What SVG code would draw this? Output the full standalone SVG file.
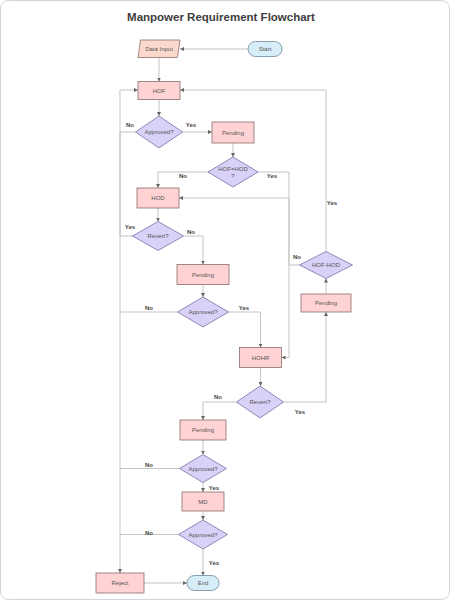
<svg xmlns="http://www.w3.org/2000/svg" width="450" height="600" viewBox="0 0 450 600">
<defs>
<marker id="arr" markerUnits="userSpaceOnUse" markerWidth="4" markerHeight="4" refX="4" refY="2" orient="auto">
<path d="M0,0 L4,2 L0,4 z" fill="#666"/>
</marker>
<style>
.t{font-family:"Liberation Sans",Arial,sans-serif;font-size:6px;fill:#555;text-anchor:middle;dominant-baseline:central}
.l{font-family:"Liberation Sans",Arial,sans-serif;font-size:6px;font-weight:bold;fill:#444;text-anchor:middle;dominant-baseline:central}
.rc{fill:#ffd3d3;stroke:#8a6e6e;stroke-width:0.8}
.dm{fill:#d9d1f7;stroke:#7a6ea6;stroke-width:0.8}
.tm{fill:#d7eef9;stroke:#6f8596;stroke-width:0.8}
.io{fill:#fcd8cc;stroke:#8a7070;stroke-width:0.8}
#connectors path{fill:none;stroke:#c4c4c4;stroke-width:1}
</style>
</defs>
<rect x="0.5" y="0.5" width="449" height="599" rx="8" fill="#fff" stroke="#d4d4d4"/>
<text x="221" y="17" style="font-family:'Liberation Sans',Arial,sans-serif;font-size:11.5px;font-weight:bold;fill:#3d3d3d;text-anchor:middle;dominant-baseline:central">Manpower Requirement Flowchart</text>

<g id="connectors">
<path d="M248,49 H180" marker-end="url(#arr)"/>
<path d="M159,57.5 V81.5" marker-end="url(#arr)"/>
<path d="M159,99.5 V116" marker-end="url(#arr)"/>
<path d="M182.5,132 H212" marker-end="url(#arr)"/>
<path d="M135.5,132 H120 V573" marker-end="url(#arr)"/>
<path d="M132.5,236 H120 V90 H138" marker-end="url(#arr)"/>
<path d="M233,143 V157" marker-end="url(#arr)"/>
<path d="M208,172 H158 V188" marker-end="url(#arr)"/>
<path d="M258,172 H289 V357.5 H281.5" marker-end="url(#arr)"/>
<path d="M158,208 V221.5" marker-end="url(#arr)"/>
<path d="M183.5,236 H203 V264.5" marker-end="url(#arr)"/>
<path d="M203,284.5 V297" marker-end="url(#arr)"/>
<path d="M177.5,312 H120"/>
<path d="M228.5,312 H260.5 V347.5" marker-end="url(#arr)"/>
<path d="M260.5,367.5 V386" marker-end="url(#arr)"/>
<path d="M283.5,402 H326 V312" marker-end="url(#arr)"/>
<path d="M326,294 V278.5" marker-end="url(#arr)"/>
<path d="M326,251.5 V90 H180" marker-end="url(#arr)"/>
<path d="M299.5,265 H289 V198 H179" marker-end="url(#arr)"/>
<path d="M236.5,402 H203 V420" marker-end="url(#arr)"/>
<path d="M203,440 V454.5" marker-end="url(#arr)"/>
<path d="M179.5,468.5 H120"/>
<path d="M203,482.5 V492" marker-end="url(#arr)"/>
<path d="M203,511 V520" marker-end="url(#arr)"/>
<path d="M178.5,534.5 H120"/>
<path d="M203,549 V575.5" marker-end="url(#arr)"/>
<path d="M144,583 H187" marker-end="url(#arr)"/>
<text class="l" x="191" y="125">Yes</text>
<text class="l" x="130" y="125">No</text>
<text class="l" x="130" y="227">Yes</text>
<text class="l" x="183" y="176">No</text>
<text class="l" x="272" y="176">Yes</text>
<text class="l" x="191" y="232">No</text>
<text class="l" x="149" y="308">No</text>
<text class="l" x="244" y="308">Yes</text>
<text class="l" x="300" y="412">Yes</text>
<text class="l" x="332" y="203">Yes</text>
<text class="l" x="297" y="257">No</text>
<text class="l" x="218" y="397">No</text>
<text class="l" x="149" y="465">No</text>
<text class="l" x="214" y="488">Yes</text>
<text class="l" x="149" y="533">No</text>
<text class="l" x="214" y="563">Yes</text>
</g>

<g id="start"><rect class="tm" x="248" y="41.5" width="34" height="15" rx="7.5"/><text class="t" x="265" y="49">Start</text></g>
<g id="data-input"><polygon class="io" points="140.5,40 180,40 177.5,57.5 138,57.5"/><text class="t" x="159" y="49">Data Input</text></g>
<g id="hof"><rect class="rc" x="138" y="81.5" width="42" height="18"/><text class="t" x="159" y="90.5">HOF</text></g>
<g id="approved1"><polygon class="dm" points="159,116 182.5,132 159,148 135.5,132"/><text class="t" x="159" y="132">Approved?</text></g>
<g id="pending1"><rect class="rc" x="212" y="122" width="42" height="21"/><text class="t" x="233" y="132.5">Pending</text></g>
<g id="hof-eq-hod"><polygon class="dm" points="233,157 258,172 233,187 208,172"/><text class="t" x="233" y="169">HOF=HOD</text><text class="t" x="233" y="176">?</text></g>
<g id="hod"><rect class="rc" x="137" y="188" width="42" height="20"/><text class="t" x="158" y="198">HOD</text></g>
<g id="revert1"><polygon class="dm" points="158,221.5 183.5,236 158,250.5 132.5,236"/><text class="t" x="158" y="236">Revert?</text></g>
<g id="pending2"><rect class="rc" x="177" y="264.5" width="52" height="20"/><text class="t" x="203" y="274.5">Pending</text></g>
<g id="approved2"><polygon class="dm" points="203,297 228.5,312 203,327 177.5,312"/><text class="t" x="203" y="312">Approved?</text></g>
<g id="hohr"><rect class="rc" x="239.5" y="347.5" width="42" height="20"/><text class="t" x="260.5" y="357.5">HOHR</text></g>
<g id="revert2"><polygon class="dm" points="260,386 283.5,402 260,418 236.5,402"/><text class="t" x="260" y="402">Revert?</text></g>
<g id="pending3"><rect class="rc" x="301" y="294" width="50" height="18"/><text class="t" x="326" y="303">Pending</text></g>
<g id="hof-hod"><polygon class="dm" points="326,251.5 352.5,265 326,278.5 299.5,265"/><text class="t" x="326" y="265">HOF-HOD</text></g>
<g id="pending4"><rect class="rc" x="180" y="420" width="46" height="20"/><text class="t" x="203" y="430">Pending</text></g>
<g id="approved3"><polygon class="dm" points="203,454.5 226.5,468.5 203,482.5 179.5,468.5"/><text class="t" x="203" y="468.5">Approved?</text></g>
<g id="md"><rect class="rc" x="182" y="492" width="42" height="19"/><text class="t" x="203" y="501.5">MD</text></g>
<g id="approved4"><polygon class="dm" points="203,520 227.5,534.5 203,549 178.5,534.5"/><text class="t" x="203" y="534.5">Approved?</text></g>
<g id="end"><rect class="tm" x="187" y="575.5" width="32" height="15" rx="7.5"/><text class="t" x="203" y="583">End</text></g>
<g id="reject"><rect class="rc" x="96" y="573" width="48" height="20"/><text class="t" x="120" y="583">Reject</text></g>
</svg>
